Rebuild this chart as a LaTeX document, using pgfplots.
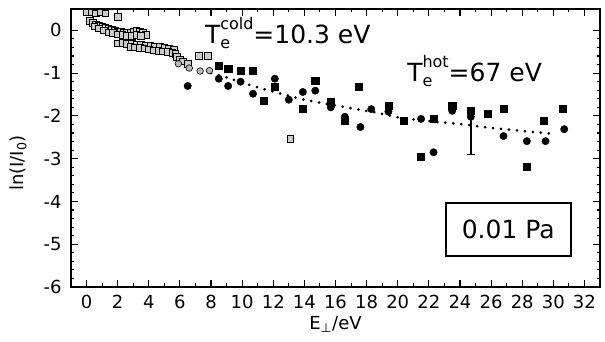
\documentclass[border=0pt]{standalone}
\usepackage{fontspec}
\setmainfont{DejaVu Sans}
\usepackage{pgfplots}
\pgfplotsset{compat=1.18}

% T with a stacked subscript (short) and superscript (long)
\newcommand{\Tsubsup}[2]{T\rlap{\raisebox{-5pt}{\fontsize{16}{16}\selectfont #1}}%
  \raisebox{14pt}{\fontsize{16}{16}\selectfont #2}}

\begin{document}
\begin{tikzpicture}
\useasboundingbox (-71pt,-55pt) rectangle (534pt,287pt);
\begin{axis}[
  scale only axis, width=529pt, height=278pt,
  xmin=-1, xmax=33, ymin=-6, ymax=0.5,
  xtick={0,2,...,32}, ytick={-6,-5,...,0},
  minor x tick num=1, minor y tick num=4,
  axis line style={line width=1.6pt},
  major tick length=7pt, minor tick length=3.5pt,
  every tick/.style={black, line width=1.1pt},
  tick label style={font=\fontsize{18}{18}\selectfont},
  xticklabel style={yshift=-5pt},
  yticklabel style={xshift=-6pt},
  /pgf/number format/assume math mode=true,
  xlabel={E\textsubscript{⊥}/eV},
  ylabel={ln(I/I\textsubscript{0})},
  label style={font=\fontsize{18}{18}\selectfont},
  xlabel style={yshift=0pt},
  ylabel style={xshift=-15pt, yshift=10pt},
  clip=false,
]
% low-energy (cold) part of the distribution
\addplot[only marks, mark=square*, mark size=3.3pt,
  mark options={fill=gray!40, draw=black, line width=0.5pt}] coordinates {
  (0.0,0.42) (0.3,0.42) (0.6,0.40) (0.9,0.42) (1.2,0.40) (2.0,0.32)
  (0.2,0.22) (0.4,0.18) (0.6,0.14) (0.8,0.12) (1.0,0.08) (1.2,0.06)
  (1.4,0.04) (1.6,0.03) (1.8,0.00) (2.0,-0.02) (2.2,-0.03) (2.4,-0.05)
  (2.6,-0.06) (2.8,-0.04) (3.0,-0.02) (3.2,0.00) (3.4,-0.03) (3.6,-0.06) (3.8,-0.10)
  (0.5,0.10) (0.8,0.05) (1.1,0.00) (1.4,-0.04) (1.7,-0.06) (2.0,-0.09)
  (2.3,-0.10) (2.6,-0.12) (2.9,-0.13) (3.2,-0.10) (3.5,-0.12)
  (2.0,-0.30) (2.3,-0.29) (2.6,-0.31) (2.9,-0.30) (3.2,-0.33) (3.5,-0.32)
  (3.8,-0.35) (4.1,-0.36) (4.4,-0.38) (4.7,-0.37) (5.0,-0.40) (5.3,-0.42) (5.6,-0.44)
  (2.8,-0.38) (3.1,-0.39) (3.4,-0.40) (3.7,-0.42) (4.0,-0.44) (4.3,-0.46)
  (4.6,-0.47) (4.9,-0.49) (5.2,-0.50) (5.5,-0.52) (5.7,-0.55)
  (5.8,-0.62) (6.0,-0.68) (6.2,-0.72) (6.5,-0.78)
  (7.2,-0.60) (7.8,-0.60) (13.1,-2.54)
};
\addplot[only marks, mark=*, mark size=3.3pt,
  mark options={fill=gray!55, draw=black, line width=0.6pt}] coordinates {
  (5.9,-0.78) (6.6,-0.88) (7.3,-0.95) (7.9,-0.94)
};
% high-energy (hot) part: squares
\addplot[only marks, mark=square*, mark size=3.6pt, mark options={fill=black}] coordinates {
  (8.5,-0.82) (9.1,-0.89) (9.9,-0.95) (10.7,-0.94) (11.4,-1.65) (12.1,-1.32)
  (13.9,-1.84) (14.7,-1.18) (15.7,-1.67) (16.6,-2.12) (17.5,-1.32) (19.4,-1.76)
  (20.4,-2.12) (21.5,-2.96) (22.3,-2.07) (23.5,-1.76) (24.7,-1.88) (25.8,-1.95)
  (26.8,-1.84) (28.3,-3.18) (29.4,-2.12) (30.6,-1.84)
};
% high-energy (hot) part: circles
\addplot[only marks, mark=*, mark size=3.7pt, mark options={fill=black}] coordinates {
  (6.5,-1.30) (8.5,-1.13) (9.1,-1.30) (9.9,-1.20) (10.7,-1.48) (12.1,-1.13)
  (13.0,-1.62) (13.9,-1.44) (14.7,-1.41) (15.7,-1.80) (16.6,-2.02) (17.6,-2.26)
  (18.3,-1.84) (19.4,-1.90) (21.5,-2.07) (22.3,-2.85) (23.5,-1.88) (24.7,-2.02)
  (26.8,-2.47) (28.3,-2.59) (29.5,-2.59) (30.7,-2.31)
};
% typical error bar
\addplot[draw=none, mark=none,
  error bars/.cd, y dir=both, y explicit,
  error bar style={line width=1.8pt},
  error mark options={rotate=90, mark size=4pt, line width=1.8pt}]
  coordinates {(24.7,-2.37) +- (0,0.53)};
% two-temperature fit
\addplot[black, line width=3pt, dash pattern=on 0pt off 8pt, line cap=round, smooth] coordinates {
  (8.0,-1.00) (9.0,-1.10) (10.6,-1.29) (12.5,-1.48) (14.0,-1.62) (16.5,-1.79)
  (18.6,-1.92) (20.0,-2.03) (22.0,-2.12) (24.0,-2.19) (26.0,-2.28) (28.0,-2.35) (30.0,-2.42)
};
\node[anchor=base west, font=\fontsize{25}{25}\selectfont, inner sep=0pt]
  at (axis cs:7.6,-0.31) {\Tsubsup{e}{cold}=10.3 eV};
\node[anchor=base west, font=\fontsize{25}{25}\selectfont, inner sep=0pt]
  at (axis cs:20.6,-1.20) {\Tsubsup{e}{hot}=67 eV};
\node[draw, line width=1.6pt, font=\fontsize{25}{25}\selectfont,
  minimum width=125pt, minimum height=53pt] at (axis cs:27.1,-4.66) {0.01 Pa};
\end{axis}
\end{tikzpicture}
\end{document}
